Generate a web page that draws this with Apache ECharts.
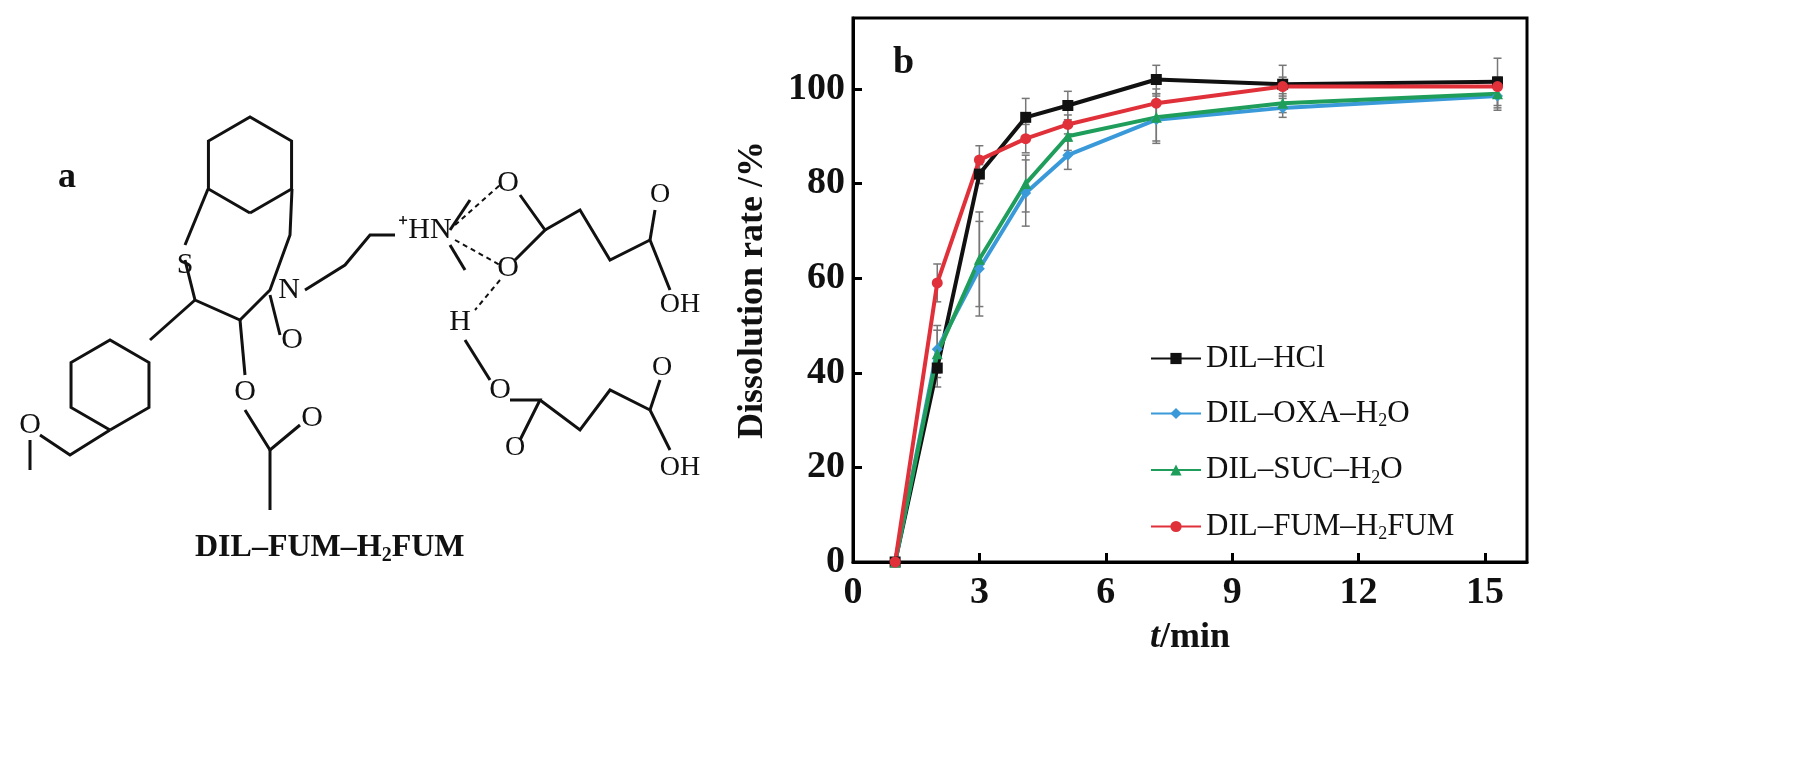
<!DOCTYPE html>
<html><head><meta charset="utf-8">
<script src="https://cdn.jsdelivr.net/npm/echarts@6/dist/echarts.min.js"></script>
<style>html,body{margin:0;padding:0;background:#fff}#c{width:1819px;height:780px}</style>
</head><body><div id="c"></div>
<script>
const times = [1, 2, 3, 4.1, 5.1, 7.2, 10.2, 15.3];
const seriesNames = ['DIL\u2013HCl', 'DIL\u2013OXA\u2013H2O', 'DIL\u2013SUC\u2013H2O', 'DIL\u2013FUM\u2013H2FUM'];
const hcl = [0, 41, 82, 94, 96.5, 102, 101, 101.5];
const oxa = [0, 45, 62, 78, 86, 93.5, 96, 98.5];
const suc = [0, 44, 64, 80, 90, 94, 97, 99];
const fum = [0, 59, 85, 89.5, 92.5, 97, 100.5, 100.5];
const hclErr = [0, 4, 2, 4, 3, 3, 4, 5];
const oxaErr = [0, 5, 10, 7, 3, 5, 2, 3];
const sucErr = [0, 5, 10, 6, 3, 5, 2, 3];
const fumErr = [0, 4, 3, 3, 2, 3, 2, 2];
const colors = ['#111111', '#3a9ad9', '#1e9e5a', '#e0313a'];
const symbols = ['rect', 'diamond', 'triangle', 'circle'];
const values = [hcl, oxa, suc, fum];
const errs = [hclErr, oxaErr, sucErr, fumErr];

const chart = echarts.init(document.getElementById('c'));
const font = 'Liberation Serif';
const series = [];
values.forEach((v, i) => {
  series.push({
    type: 'custom', silent: true, z: 1,
    data: times.map((t, k) => [t, v[k] - errs[i][k], v[k] + errs[i][k]]),
    renderItem: (p, api) => {
      const lo = api.coord([api.value(0), api.value(1)]);
      const hi = api.coord([api.value(0), api.value(2)]);
      const st = {stroke: '#777', lineWidth: 1.5};
      return {type: 'group', children: [
        {type: 'line', shape: {x1: lo[0], y1: lo[1], x2: hi[0], y2: hi[1]}, style: st},
        {type: 'line', shape: {x1: lo[0]-4, y1: lo[1], x2: lo[0]+4, y2: lo[1]}, style: st},
        {type: 'line', shape: {x1: hi[0]-4, y1: hi[1], x2: hi[0]+4, y2: hi[1]}, style: st}
      ]};
    }
  });
  series.push({
    name: seriesNames[i], type: 'line', z: 3,
    data: times.map((t, k) => [t, v[k]]),
    symbol: symbols[i], symbolSize: 11,
    lineStyle: {color: colors[i], width: 4},
    itemStyle: {color: colors[i]}
  });
});

function hex(cx, cy, r, rot) {
  const pts = [];
  for (let k = 0; k < 6; k++) { const a = (Math.PI/3)*k + rot; pts.push([cx + r*Math.cos(a), cy + r*Math.sin(a)]); }
  return pts;
}
const ln = (pts) => ({type: 'polyline', shape: {points: pts}, style: {stroke: '#111', lineWidth: 3, fill: null}});
const dash = (pts) => ({type: 'polyline', shape: {points: pts}, style: {stroke: '#111', lineWidth: 2, lineDash: [5, 4], fill: null}});
const tx = (x, y, s, size) => ({type: 'text', x: x, y: y, style: {text: s, font: (size||30) + 'px "' + font + '"', fill: '#111', textAlign: 'center', textVerticalAlign: 'middle'}});
const b1 = hex(250, 165, 48, Math.PI/2); b1.push(b1[0]);
const b2 = hex(110, 385, 45, Math.PI/2); b2.push(b2[0]);
const graphics = [
  ln(b1), ln(b2),
  ln([[208,189],[185,245]]), ln([[292,189],[290,235],[270,290],[240,320],[195,300],[185,260]]),
  ln([[305,290],[345,265],[370,235],[395,235]]), tx(289, 290, 'N', 30), tx(185, 265, 'S', 30),
  ln([[270,295],[280,335]]), tx(292, 340, 'O', 30),
  ln([[195,300],[150,340]]), ln([[240,320],[245,375]]), tx(245, 392, 'O', 30),
  ln([[245,410],[270,450],[300,425]]), ln([[270,450],[270,510]]), tx(312, 418, 'O', 30),
  ln([[110,430],[70,455],[40,435]]), tx(30, 425, 'O', 30), ln([[30,440],[30,470]]),
  tx(425, 230, '\u207AHN', 30), ln([[450,230],[470,200]]), ln([[450,245],[465,270]]),
  dash([[455,225],[500,185]]), dash([[455,240],[500,265]]), tx(508, 183, 'O', 30), tx(508, 268, 'O', 30),
  ln([[520,195],[545,230],[515,260]]), ln([[545,230],[580,210],[610,260],[650,240]]),
  ln([[650,240],[655,210]]), tx(660, 195, 'O', 28), ln([[650,240],[670,290]]), tx(680, 305, 'OH', 28),
  dash([[500,280],[475,310]]), tx(460, 322, 'H', 30), ln([[465,340],[490,380]]), tx(500, 390, 'O', 30),
  ln([[510,400],[540,400],[520,440]]), tx(515, 448, 'O', 28), ln([[540,400],[580,430],[610,390],[650,410]]),
  ln([[650,410],[660,380]]), tx(662, 368, 'O', 28), ln([[650,410],[670,450]]), tx(680, 468, 'OH', 28),
  {type: 'text', x: 58, y: 160, style: {text: 'a', font: 'bold 36px "' + font + '"', fill: '#111'}},
  {type: 'text', x: 195, y: 530, style: {text: 'DIL\u2013FUM\u2013H{s|2}FUM', rich: {s: {fontSize: 20, fontWeight: 'bold', fontFamily: font, padding: [16,0,0,0]}}, font: 'bold 32px "' + font + '"', fill: '#111'}},
  {type: 'text', x: 893, y: 44, style: {text: 'b', font: 'bold 38px "' + font + '"', fill: '#111'}}
];

chart.setOption({
  animation: false,
  textStyle: {fontFamily: font},
  grid: {left: 853, top: 18, right: 292, bottom: 218, show: true, borderColor: '#000', borderWidth: 3},
  legend: {
    left: 1145, top: 338, orient: 'vertical', itemGap: 24, itemWidth: 50, itemHeight: 14,
    data: seriesNames,
    formatter: (n) => n.replace('H2O', 'H{s|2}O').replace('H2FUM', 'H{s|2}FUM'),
    textStyle: {fontSize: 31, fontFamily: font, color: '#111', rich: {s: {fontSize: 18, fontFamily: font, padding: [16,0,0,0]}}}
  },
  xAxis: {
    type: 'value', min: 0, max: 16, interval: 3,
    name: '{i|t}/min', nameLocation: 'middle', nameGap: 58,
    nameTextStyle: {fontSize: 36, fontWeight: 'bold', fontFamily: font, color: '#111', rich: {i: {fontStyle: 'italic', fontSize: 36, fontWeight: 'bold', fontFamily: font}}},
    axisLine: {lineStyle: {color: '#000', width: 3}},
    axisTick: {inside: true, length: 9, lineStyle: {width: 3}},
    axisLabel: {fontSize: 38, color: '#111', fontFamily: font, fontWeight: 'bold', margin: 12, showMaxLabel: false},
    splitLine: {show: false}
  },
  yAxis: {
    type: 'value', min: 0, max: 115, interval: 20,
    name: 'Dissolution rate /%', nameLocation: 'middle', nameGap: 82,
    nameTextStyle: {fontSize: 36, fontWeight: 'bold', fontFamily: font, color: '#111'},
    axisLine: {lineStyle: {color: '#000', width: 3}},
    axisTick: {inside: true, length: 9, lineStyle: {width: 3}},
    axisLabel: {fontSize: 38, color: '#111', fontFamily: font, fontWeight: 'bold', showMaxLabel: false},
    splitLine: {show: false}
  },
  graphic: graphics,
  series: series
});
</script></body></html>
